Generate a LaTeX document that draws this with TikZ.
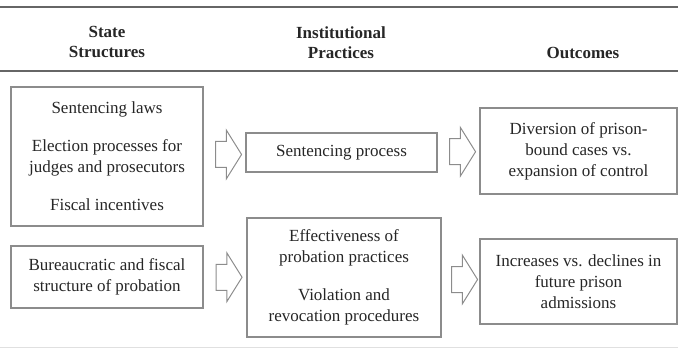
\documentclass[tikz,border=0pt]{standalone}
\usepackage{fontspec}
\setmainfont{Liberation Serif}
\usetikzlibrary{positioning,shapes.arrows,calc}

\begin{document}
\begin{tikzpicture}[x=1pt,y=-1pt,
    every node/.style={font=\fontsize{17}{21}\selectfont,text=black!85},
    box/.style={draw=black!45,line width=1.2pt,align=center,inner sep=0pt},
    head/.style={font=\fontsize{17}{20}\selectfont\bfseries,align=center},
    flow/.style={single arrow,draw=black!45,line width=1pt,inner xsep=0pt,inner ysep=12.5pt,
        minimum height=26pt,minimum width=48pt,
        single arrow head extend=11.5pt,single arrow tip angle=116}]
    \useasboundingbox (0,0) rectangle (678,350);
    % rules
    \draw[black!60,line width=2pt] (0,7) -- (678,7);
    \draw[black!60,line width=2pt] (0,71.5) -- (678,71.5);
    \draw[black!12,line width=1pt] (0,347) -- (678,347);
    % headings
    \node[head] (h_s) at (107,42) {State\\Structures};
    \node[head] (h_p) at (341,43) {Institutional\\Practices};
    \node[head] (h_o) at (583,53) {Outcomes};
    % boxes
    \node[box,minimum width=192pt,minimum height=139pt] (s_1) at (107,156.5)
        {Sentencing laws\\[17pt]Election processes for\\judges and prosecutors\\[17pt]Fiscal incentives};
    \node[box,minimum width=192pt,minimum height=62pt]  (s_2) at (107,277)
        {Bureaucratic and fiscal\\structure of probation};
    \node[box,minimum width=191pt,minimum height=39pt]  (p_1) at (341.5,152.5)
        {Sentencing process};
    \node[box,minimum width=194pt,minimum height=119pt] (p_2) at (344,277.5)
        {Effectiveness of\\probation practices\\[17pt]Violation and\\revocation procedures};
    \node[box,minimum width=197pt,minimum height=86pt]  (o_1) at (578.5,151)
        {Diversion of prison-\\bound cases vs.\\expansion of control};
    \node[box,minimum width=197pt,minimum height=85pt]  (o_2) at (578.5,281.5)
        {Increases vs. declines in\\future prison\\admissions};
    % block arrows
    \node[flow] (a_1) at ($(s_1.east)!.5!(p_1.west)$) {};
    \node[flow] (a_2) at ($(p_1.east)!.5!(o_1.west)$) {};
    \node[flow] (a_3) at ($(s_2.east)!.5!(p_2.west)$) {};
    \node[flow] (a_4) at ($(p_2.east)!.5!(o_2.west)$) {};
\end{tikzpicture}
\end{document}
